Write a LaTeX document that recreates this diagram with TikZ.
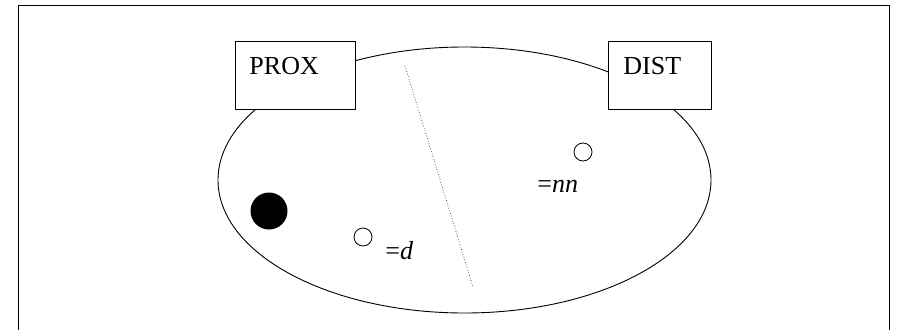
\documentclass[tikz,border=0pt]{standalone}
\usepackage{fontspec}
\setmainfont{Liberation Serif}
\begin{document}
\begin{tikzpicture}[x=1pt,y=-1pt,
  line width=0.9pt,
  box/.style={draw, fill=white, rectangle, minimum width=120pt, minimum height=68pt, anchor=north west, inner sep=0pt},
  lbl/.style={font=\fontsize{26}{28}\selectfont, inner sep=0pt},
  hole/.style={draw, circle, minimum size=18pt, inner sep=0pt, line width=0.8pt},
  ball/.style={fill=black, circle, minimum size=37pt, inner sep=0pt}]
\useasboundingbox (0,0) rectangle (897,330);
% frame
\coordinate (fl) at (18,330);
\coordinate (ftl) at (18,5);
\coordinate (ftr) at (889,5);
\coordinate (fr) at (889,330);
\draw (fl) -- (ftl) -- (ftr) -- (fr);
% ellipse
\draw (464.5,180) ellipse [x radius=246.5, y radius=133];
% dotted divider
\coordinate (da) at (405,66);
\coordinate (db) at (473,287);
\draw[dotted, line width=0.7pt, black!80] (da) -- (db);
% boxes
\node[box] (prox) at (235,41) {};
\node[lbl, anchor=base west] (proxt) at (249,74) {PROX};
\node[box, minimum width=103pt] (dist) at (608,41) {};
\node[lbl, anchor=base west] (distt) at (623,74) {DIST};
% points
\node[ball] (b) at (269,211) {};
\node[hole] (hd) at (363,237) {};
\node[lbl, anchor=base west] (td) at (385,259) {=\textit{d}};
\node[hole] (hn) at (583,152) {};
\node[lbl, anchor=base west] (tn) at (537,192) {=\textit{nn}};
\end{tikzpicture}
\end{document}
